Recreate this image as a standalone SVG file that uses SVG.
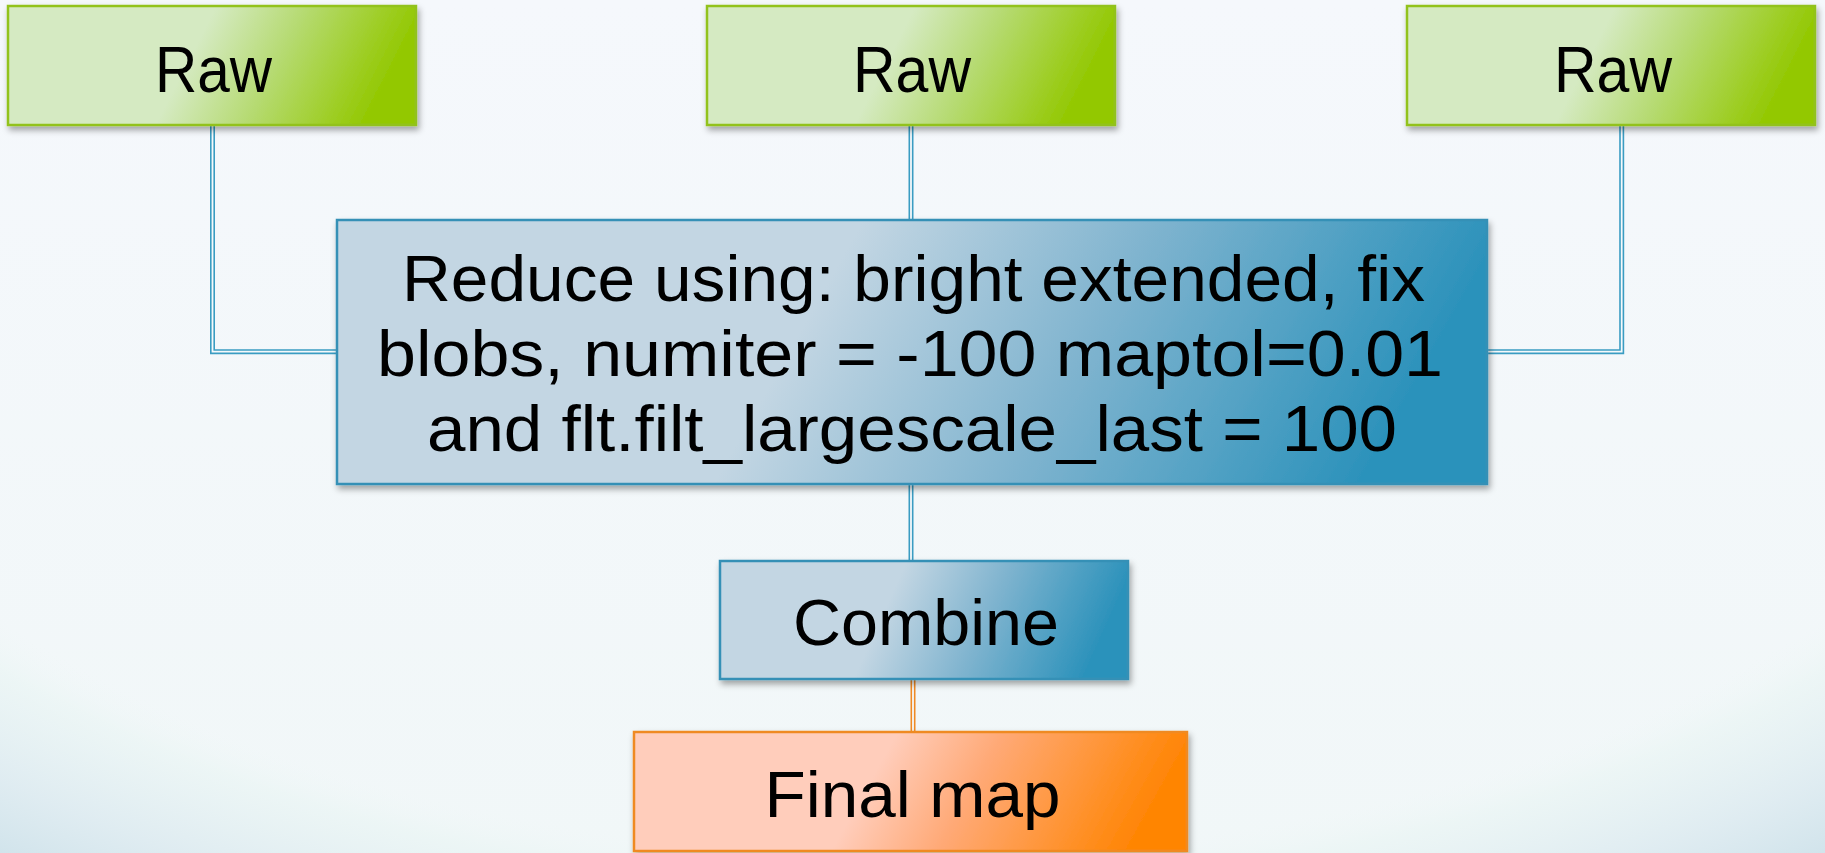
<svg xmlns="http://www.w3.org/2000/svg" width="1825" height="853" viewBox="0 0 1825 853">
  <defs>
    <linearGradient id="bg" x1="0" y1="0" x2="0" y2="1">
      <stop offset="0" stop-color="#f5f8fc"/>
      <stop offset="1" stop-color="#f1f7f8"/>
    </linearGradient>
    <radialGradient id="bgEdge" gradientUnits="userSpaceOnUse" cx="912" cy="180" r="1562" gradientTransform="translate(912 180) scale(1 0.56) translate(-912 -180)">
      <stop offset="0" stop-color="#f0f7f7" stop-opacity="0"/>
      <stop offset="0.77" stop-color="#f0f7f7" stop-opacity="0"/>
      <stop offset="0.81" stop-color="#eaf5f4" stop-opacity="0.7"/>
      <stop offset="0.9" stop-color="#dceaf0" stop-opacity="0.85"/>
      <stop offset="1" stop-color="#c9dfe8"/>
    </radialGradient>
    <linearGradient id="gGreen" x1="0" y1="0" x2="1" y2="0.15">
      <stop offset="0" stop-color="#d5eac2"/>
      <stop offset="0.5" stop-color="#d5eac2"/>
      <stop offset="0.72" stop-color="#b5da70"/>
      <stop offset="1" stop-color="#93c802"/>
    </linearGradient>
    <linearGradient id="gBlue" x1="0" y1="0" x2="1" y2="0.13">
      <stop offset="0" stop-color="#c3d6e3"/>
      <stop offset="0.45" stop-color="#c3d6e3"/>
      <stop offset="0.7" stop-color="#80b4cf"/>
      <stop offset="1" stop-color="#2c92bb"/>
    </linearGradient>
    <linearGradient id="gOrange" x1="0" y1="0" x2="1" y2="0.12">
      <stop offset="0" stop-color="#ffcdbb"/>
      <stop offset="0.47" stop-color="#ffcdbb"/>
      <stop offset="0.66" stop-color="#ffa976"/>
      <stop offset="1" stop-color="#ff8504"/>
    </linearGradient>
    <filter id="shadow" x="-10%" y="-10%" width="120%" height="130%">
      <feDropShadow dx="2" dy="4" stdDeviation="3" flood-color="#000" flood-opacity="0.35"/>
    </filter>
  </defs>
  <style>
    .lbl { font-family: "Liberation Sans", Arial, sans-serif; font-size: 64px; fill: #000; text-anchor: middle; }
    .green { fill: url(#gGreen); stroke: #92c21c; stroke-width: 2.5; filter: url(#shadow); }
    .blue { fill: url(#gBlue); stroke: #3590b6; stroke-width: 2.5; filter: url(#shadow); }
    .orange { fill: url(#gOrange); stroke: #ef8a24; stroke-width: 2.5; filter: url(#shadow); }
    .cOut { fill: none; stroke: #3a9cc2; stroke-width: 5; }
    .cIn { fill: none; stroke: #f5f9fb; stroke-width: 1.8; }
    .oOut { fill: none; stroke: #ef8a24; stroke-width: 5; }
  </style>

  <rect x="0" y="0" width="1825" height="853" fill="url(#bg)"/>
  <rect x="0" y="0" width="1825" height="853" fill="url(#bgEdge)"/>

  <g id="connectors">
    <path class="cOut" d="M212.5 125 V351.7 H337"/>
    <path class="cIn" d="M212.5 125 V351.7 H337"/>
    <path class="cOut" d="M1621.7 125 V351.7 H1487"/>
    <path class="cIn" d="M1621.7 125 V351.7 H1487"/>
    <path class="cOut" d="M911 125 V220"/>
    <path class="cIn" d="M911 125 V220"/>
    <path class="cOut" d="M911 484 V561"/>
    <path class="cIn" d="M911 484 V561"/>
    <path class="oOut" d="M913 677 V732"/>
    <path class="cIn" d="M913 677 V732"/>
  </g>

  <g id="raw1">
    <rect class="green" x="8" y="6" width="408" height="119"/>
    <text class="lbl" x="213.5" y="92" textLength="117" lengthAdjust="spacingAndGlyphs">Raw</text>
  </g>
  <g id="raw2">
    <rect class="green" x="707" y="6" width="408" height="119"/>
    <text class="lbl" x="912" y="92" textLength="118" lengthAdjust="spacingAndGlyphs">Raw</text>
  </g>
  <g id="raw3">
    <rect class="green" x="1407" y="6" width="408" height="119"/>
    <text class="lbl" x="1613" y="92" textLength="118" lengthAdjust="spacingAndGlyphs">Raw</text>
  </g>
  <g id="reduce">
    <rect class="blue" x="337" y="220" width="1150" height="264"/>
    <text class="lbl" x="913.5" y="301" textLength="1023" lengthAdjust="spacingAndGlyphs">Reduce using: bright extended, fix</text>
    <text class="lbl" x="910" y="376" textLength="1066" lengthAdjust="spacingAndGlyphs">blobs, numiter = -100 maptol=0.01</text>
    <text class="lbl" x="912" y="451" textLength="970" lengthAdjust="spacingAndGlyphs">and flt.filt_largescale_last = 100</text>
  </g>
  <g id="combine">
    <rect class="blue" x="720" y="561" width="408" height="118"/>
    <text class="lbl" x="926" y="645" textLength="266" lengthAdjust="spacingAndGlyphs">Combine</text>
  </g>
  <g id="final">
    <rect class="orange" x="634" y="732" width="553" height="119"/>
    <text class="lbl" x="912.5" y="817" textLength="296" lengthAdjust="spacingAndGlyphs">Final map</text>
  </g>
</svg>
